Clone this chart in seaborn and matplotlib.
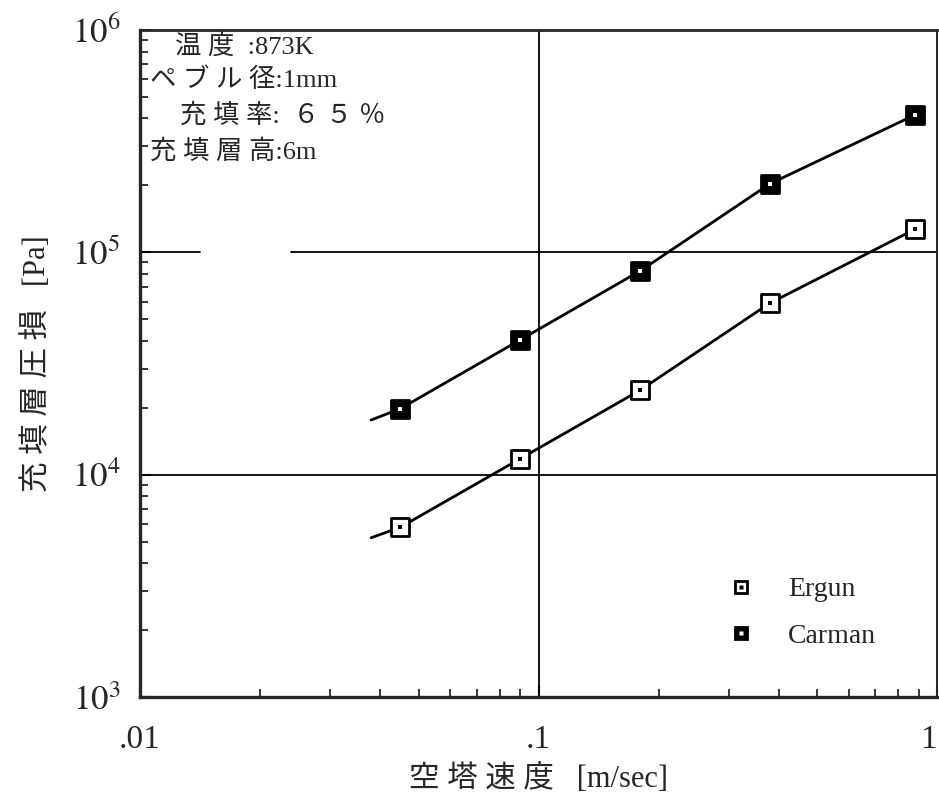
import numpy as np
import pandas as pd
import seaborn as sns
import matplotlib.pyplot as plt
from matplotlib.lines import Line2D

# 空塔速度 [m/sec] と 充填層圧損 [Pa]
speed = [0.045, 0.09, 0.18, 0.38, 0.88]
ergun = [5.8e3, 1.18e4, 2.4e4, 5.9e4, 1.27e5]
carman = [1.98e4, 4.04e4, 8.25e4, 2.03e5, 4.15e5]

# fitted curves start a little left of the first point
line_speed = [0.038, 0.045, 0.09, 0.18, 0.38, 0.88]
ergun_line = [5.2e3, 5.8e3, 1.18e4, 2.4e4, 5.9e4, 1.27e5]
carman_line = [1.76e4, 1.98e4, 4.04e4, 8.25e4, 2.03e5, 4.15e5]

conditions = ['温 度  :873K', 'ペ ブ ル 径:1mm', '充 填 率:  ６ ５ ％', '充 填 層 高:6m']

pts = pd.DataFrame({'speed': speed * 2, 'dp': ergun + carman,
                    'model': ['Ergun'] * 5 + ['Carman'] * 5})
lines = pd.DataFrame({'speed': line_speed * 2, 'dp': ergun_line + carman_line,
                      'model': ['Ergun'] * 6 + ['Carman'] * 6})

sns.set_style('ticks')
plt.rcParams['font.family'] = ['Liberation Serif', 'Noto Sans CJK JP', 'DejaVu Sans']
plt.rcParams['mathtext.fontset'] = 'stix'

fig = plt.figure(figsize=(9.39, 8.1), dpi=100)
ax = fig.add_axes([0.149, 0.1395, 0.849, 0.8235])

sns.lineplot(data=lines, x='speed', y='dp', units='model', estimator=None,
             color='black', lw=2.0, ax=ax, sort=False)

face = {'Ergun': 'white', 'Carman': 'black'}
dot = {'Ergun': 'black', 'Carman': 'white'}
for m in ['Ergun', 'Carman']:
    d = pts[pts.model == m]
    sns.scatterplot(data=d, x='speed', y='dp', marker='s', s=150,
                    color=face[m], edgecolor='black', linewidth=2, ax=ax, zorder=5)
    sns.scatterplot(data=d, x='speed', y='dp', marker='s', s=8,
                    color=dot[m], edgecolor='none', ax=ax, zorder=6)

ax.set_xscale('log')
ax.set_yscale('log')
ax.set_xlim(0.01, 1)
ax.set_ylim(1e3, 1e6)

# grid lines at the decades
ax.axvline(0.1, color='black', lw=1.3, zorder=1)
ax.axhline(1e4, color='black', lw=1.3, zorder=1)
ax.axhline(1e5, xmin=0, xmax=0.075, color='black', lw=1.3, zorder=1)
ax.axhline(1e5, xmin=0.19, xmax=1, color='black', lw=1.3, zorder=1)

ax.set_xticks([0.01, 0.1, 1])
ax.set_xticklabels(['.01', '.1', '1'], fontsize=24)
ax.get_xticklabels()[-1].set_ha('right')
ax.set_yticks([1e3, 1e4, 1e5, 1e6])
ax.set_yticklabels([r'$10^{3}$', r'$10^{4}$', r'$10^{5}$', r'$10^{6}$'], fontsize=25)
ax.tick_params(which='major', direction='in', length=8, width=1.5, pad=14)
ax.tick_params(axis='x', which='major', pad=20)
ax.tick_params(which='minor', direction='in', length=6, width=1.3)

for s in ['left', 'bottom']:
    ax.spines[s].set_linewidth(2.4)
ax.spines['top'].set_linewidth(2.0)
ax.spines['right'].set_linewidth(1.4)

ax.set_xlabel('空 塔 速 度   [m/sec]', fontsize=22, labelpad=6)
ax.set_ylabel('充 填 層 圧 損   [Pa]', fontsize=22, labelpad=14)

xs = [0.044, 0.0125, 0.05, 0.0125]
ys = [0.975, 0.926, 0.872, 0.818]
for t, x, y in zip(conditions, xs, ys):
    ax.text(x, y, t, transform=ax.transAxes, fontsize=19, va='center', ha='left')

handles = [
    (Line2D([], [], marker='s', ls='none', ms=9, mfc='white', mec='black', mew=2),
     Line2D([], [], marker='s', ls='none', ms=2.2, mfc='black', mec='none')),
    (Line2D([], [], marker='s', ls='none', ms=9, mfc='black', mec='black', mew=2),
     Line2D([], [], marker='s', ls='none', ms=2.2, mfc='white', mec='none')),
]
ax.legend(handles, ['Ergun', 'Carman'], loc='lower left',
          bbox_to_anchor=(0.705, 0.035), frameon=False, fontsize=20,
          handlelength=1.0, handletextpad=1.2, labelspacing=0.75)

fig.savefig('out.png', dpi=100)
